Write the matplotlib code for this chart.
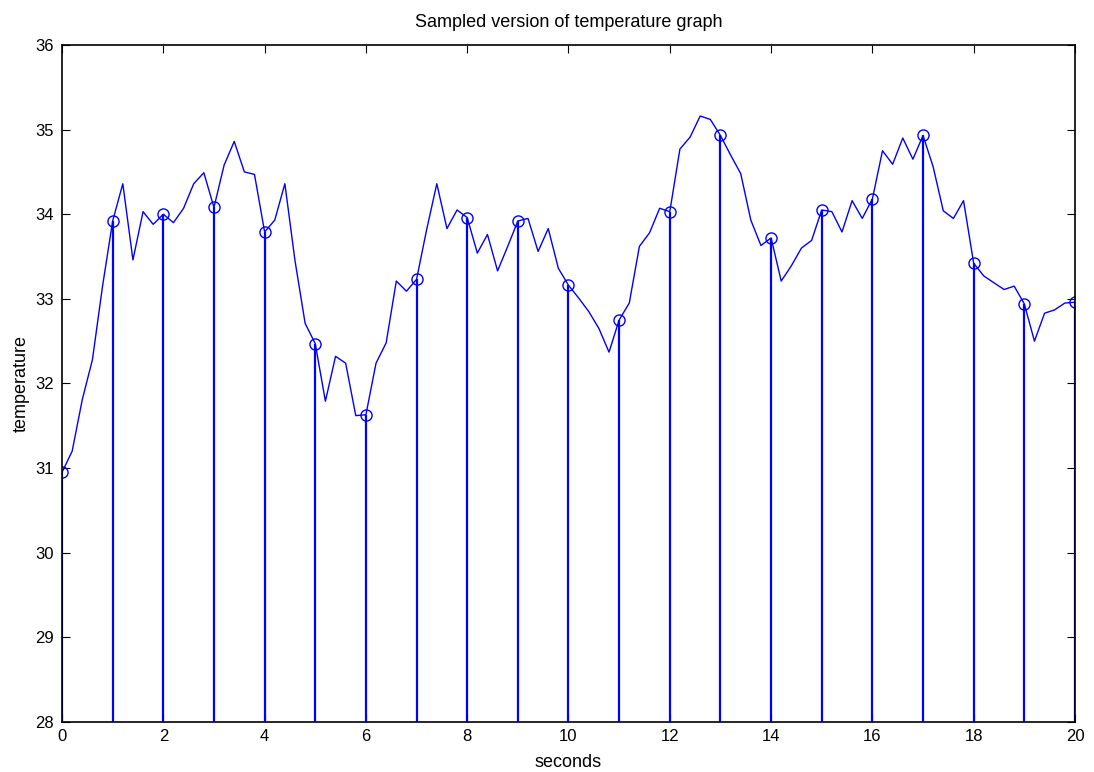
import matplotlib
matplotlib.use('Agg')
import matplotlib.pyplot as plt
import numpy as np

plt.rcParams['font.family'] = ['Liberation Sans Narrow', 'Liberation Sans', 'DejaVu Sans']

# temperature read every 0.2 s
t = np.arange(101) * 0.2
temp = [30.95, 31.20, 31.81, 32.28, 33.15, 33.92, 34.36, 33.46, 34.03, 33.88,
        34.00, 33.90, 34.07, 34.36, 34.49, 34.08, 34.58, 34.86, 34.50, 34.47,
        33.79, 33.93, 34.36, 33.45, 32.71, 32.47, 31.79, 32.32, 32.24, 31.62,
        31.63, 32.24, 32.48, 33.21, 33.09, 33.23, 33.82, 34.36, 33.83, 34.05,
        33.96, 33.54, 33.76, 33.33, 33.62, 33.92, 33.95, 33.56, 33.83, 33.36,
        33.16, 33.01, 32.85, 32.65, 32.37, 32.75, 32.95, 33.62, 33.78, 34.07,
        34.03, 34.77, 34.91, 35.16, 35.12, 34.93, 34.70, 34.48, 33.93, 33.63,
        33.72, 33.21, 33.39, 33.60, 33.69, 34.05, 34.03, 33.79, 34.16, 33.95,
        34.18, 34.75, 34.59, 34.90, 34.65, 34.93, 34.56, 34.04, 33.95, 34.16,
        33.42, 33.27, 33.19, 33.11, 33.15, 32.94, 32.50, 32.83, 32.87, 32.95,
        32.96]

# one sample per second
ts = t[::5]
temps = temp[::5]

fig = plt.figure(figsize=(10.94, 7.72), dpi=100)
ax = fig.add_axes([0.0567, 0.0648, 0.9259, 0.877])

ax.plot(t, temp, color='#0000ff', linewidth=1.0)
ml, sl, bl = ax.stem(ts, temps, linefmt='-', markerfmt='o', basefmt=' ', bottom=28)
plt.setp(sl, color='#0000ff', linewidth=1.6)
plt.setp(ml, color='#0000ff', markerfacecolor='none', markersize=8, markeredgewidth=1.0)

ax.set_xlim(0, 20)
ax.set_ylim(28, 36)
ax.set_xticks(np.arange(0, 21, 2))
ax.set_yticks(np.arange(28, 37, 1))
ax.tick_params(direction='in', top=True, right=True, length=6, labelsize=12, colors='black')
ax.tick_params(axis='y', pad=6)
ax.tick_params(axis='x', pad=5)
for s in ax.spines.values():
    s.set_linewidth(1.2)

ax.set_title('Sampled version of temperature graph', fontsize=13, pad=13)
ax.set_xlabel('seconds', fontsize=13, labelpad=7)
ax.set_ylabel('temperature', fontsize=13, labelpad=4)

fig.savefig('out.png', dpi=100)
